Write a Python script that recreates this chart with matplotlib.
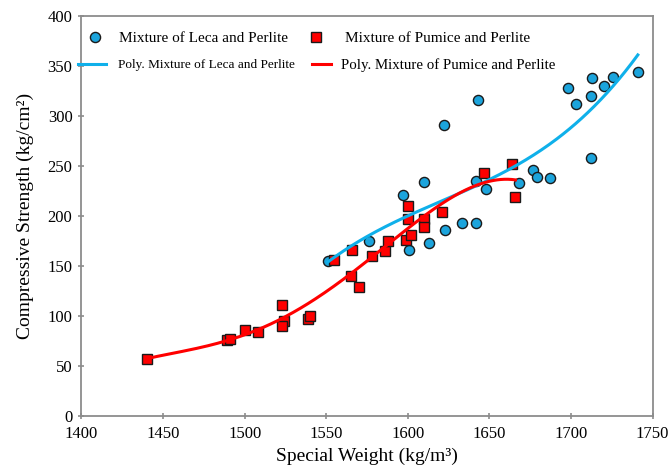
import matplotlib
matplotlib.use('Agg')
import matplotlib.pyplot as plt
import numpy as np

plt.rcParams['font.family'] = ['Liberation Serif', 'DejaVu Serif']

# Mixture of Leca and Perlite
leca_w = [1551, 1576, 1597, 1601, 1610, 1613, 1622, 1623, 1633, 1642, 1642, 1643,
          1648, 1668, 1677, 1679, 1687, 1698, 1703, 1712, 1713, 1712, 1720, 1726, 1741]
leca_s = [155, 175, 221, 166, 234, 173, 291, 186, 193, 193, 235, 316,
          227, 233, 246, 239, 238, 328, 312, 320, 338, 258, 330, 339, 344]

# Mixture of Pumice and Perlite
pum_w = [1440, 1489, 1491, 1500, 1508, 1523, 1524, 1523, 1539, 1540, 1555, 1565, 1566, 1570,
         1578, 1586, 1588, 1599, 1602, 1600, 1600, 1610, 1610, 1621, 1647, 1664, 1666]
pum_s = [57, 76, 77, 86, 84, 111, 95, 90, 97, 100, 156, 140, 166, 129,
         160, 165, 175, 176, 181, 210, 197, 197, 189, 204, 243, 252, 219]

blue_fill = '#1ca4dc'
blue_line = '#0fb0ea'
red = '#ff0000'

fig = plt.figure(figsize=(6.68, 4.68), dpi=100)
ax = fig.add_axes([0.122, 0.111, 0.8548, 0.8547])

# polynomial trendlines
cl = np.polyfit(leca_w, leca_s, 3)
xl = np.linspace(min(leca_w), max(leca_w), 200)
cp = np.polyfit(np.array(pum_w) - 1550, pum_s, 4)
xp = np.linspace(min(pum_w), max(pum_w), 200)

h1, = ax.plot(leca_w, leca_s, 'o', ms=7.3, mfc=blue_fill, mec='#1a1a1a', mew=1.0, zorder=3)
h3, = ax.plot(pum_w, pum_s, 's', ms=6.8, mfc=red, mec='#1a1a1a', mew=1.0, zorder=3)
h2, = ax.plot(xl, np.polyval(cl, xl), color=blue_line, lw=2.2, zorder=4)
h4, = ax.plot(xp, np.polyval(cp, xp - 1550), color=red, lw=2.2, zorder=4)

ax.set_xlim(1400, 1750)
ax.set_ylim(0, 400)
ax.set_xticks(np.arange(1400, 1751, 50))
ax.set_yticks(np.arange(0, 401, 50))
for s in ax.spines.values():
    s.set_color('#8c8c8c')
    s.set_linewidth(1.3)
ax.tick_params(direction='inout', length=5, width=1.2, color='#8c8c8c', labelsize=12)
ax.tick_params(axis='x', pad=5)
ax.tick_params(axis='y', pad=4)

ax.set_xlabel('Special Weight (kg/m³)', fontsize=14, labelpad=4)
ax.set_ylabel('Compressive Strength (kg/cm²)', fontsize=14, labelpad=10)


# legend entries placed one by one (x, y in pixels from top-left)
def entry(handle, label, x, y, size, hlen, pad):
    fig.legend(handles=[handle], labels=[label], loc='center left',
               bbox_to_anchor=(x / 668, 1 - y / 468), bbox_transform=fig.transFigure,
               frameon=False, fontsize=size, handlelength=hlen, handletextpad=pad,
               borderpad=0, borderaxespad=0)


entry(h1, 'Mixture of Leca and Perlite', 87.4, 38.5, 11, 1.0, 1.07)
entry(h3, 'Mixture of Pumice and Perlite', 308.4, 38.5, 11, 1.0, 1.39)
entry(h2, 'Poly. Mixture of Leca and Perlite', 78, 65.3, 9.5, 2.12, 0.91)
entry(h4, 'Poly. Mixture of Pumice and Perlite', 312, 65.3, 10.7, 1.28, 0.67)

fig.savefig('out.png', dpi=100)
